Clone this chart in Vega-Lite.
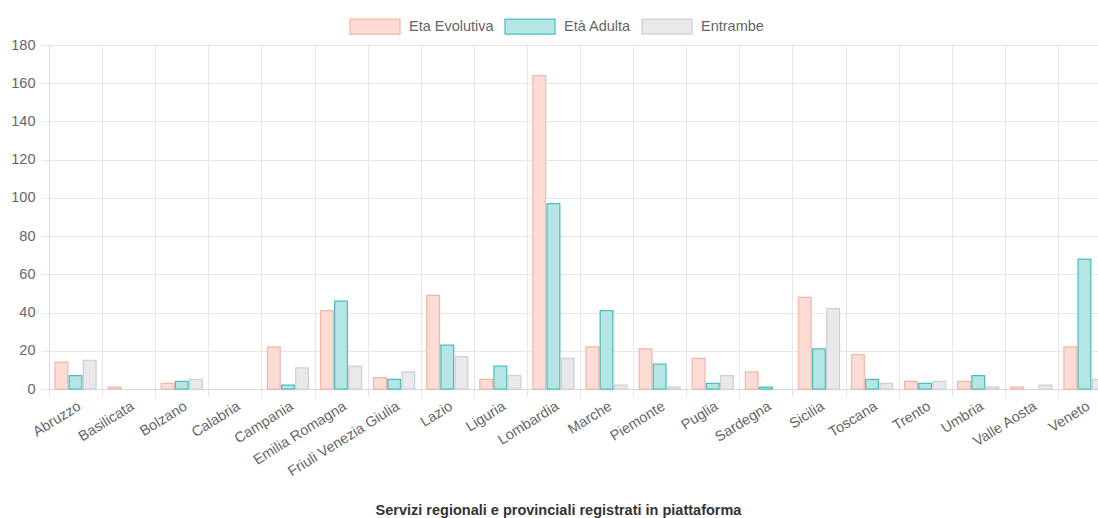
{
  "$schema": "https://vega.github.io/schema/vega-lite/v6.json",
  "width": 1049,
  "height": 344,
  "autosize": {"type": "none"},
  "padding": {"left": 49, "top": 45, "right": 0, "bottom": 129},
  "background": "white",
  "config": {
    "view": {"stroke": null},
    "font": "Liberation Sans",
    "axis": {"labelFont": "Liberation Sans", "labelColor": "#666666", "gridColor": "#e6e6e6", "domainColor": "#d9d9d9", "tickColor": "#e6e6e6"}
  },
  "data": {
    "values": [
      {"regione": "Abruzzo", "serie": "Eta Evolutiva", "valore": 14},
      {"regione": "Abruzzo", "serie": "Età Adulta", "valore": 7},
      {"regione": "Abruzzo", "serie": "Entrambe", "valore": 15},
      {"regione": "Basilicata", "serie": "Eta Evolutiva", "valore": 1},
      {"regione": "Basilicata", "serie": "Età Adulta", "valore": 0},
      {"regione": "Basilicata", "serie": "Entrambe", "valore": 0},
      {"regione": "Bolzano", "serie": "Eta Evolutiva", "valore": 3},
      {"regione": "Bolzano", "serie": "Età Adulta", "valore": 4},
      {"regione": "Bolzano", "serie": "Entrambe", "valore": 5},
      {"regione": "Calabria", "serie": "Eta Evolutiva", "valore": 0},
      {"regione": "Calabria", "serie": "Età Adulta", "valore": 0},
      {"regione": "Calabria", "serie": "Entrambe", "valore": 0},
      {"regione": "Campania", "serie": "Eta Evolutiva", "valore": 22},
      {"regione": "Campania", "serie": "Età Adulta", "valore": 2},
      {"regione": "Campania", "serie": "Entrambe", "valore": 11},
      {"regione": "Emilia Romagna", "serie": "Eta Evolutiva", "valore": 41},
      {"regione": "Emilia Romagna", "serie": "Età Adulta", "valore": 46},
      {"regione": "Emilia Romagna", "serie": "Entrambe", "valore": 12},
      {"regione": "Friuli Venezia Giulia", "serie": "Eta Evolutiva", "valore": 6},
      {"regione": "Friuli Venezia Giulia", "serie": "Età Adulta", "valore": 5},
      {"regione": "Friuli Venezia Giulia", "serie": "Entrambe", "valore": 9},
      {"regione": "Lazio", "serie": "Eta Evolutiva", "valore": 49},
      {"regione": "Lazio", "serie": "Età Adulta", "valore": 23},
      {"regione": "Lazio", "serie": "Entrambe", "valore": 17},
      {"regione": "Liguria", "serie": "Eta Evolutiva", "valore": 5},
      {"regione": "Liguria", "serie": "Età Adulta", "valore": 12},
      {"regione": "Liguria", "serie": "Entrambe", "valore": 7},
      {"regione": "Lombardia", "serie": "Eta Evolutiva", "valore": 164},
      {"regione": "Lombardia", "serie": "Età Adulta", "valore": 97},
      {"regione": "Lombardia", "serie": "Entrambe", "valore": 16},
      {"regione": "Marche", "serie": "Eta Evolutiva", "valore": 22},
      {"regione": "Marche", "serie": "Età Adulta", "valore": 41},
      {"regione": "Marche", "serie": "Entrambe", "valore": 2},
      {"regione": "Piemonte", "serie": "Eta Evolutiva", "valore": 21},
      {"regione": "Piemonte", "serie": "Età Adulta", "valore": 13},
      {"regione": "Piemonte", "serie": "Entrambe", "valore": 1},
      {"regione": "Puglia", "serie": "Eta Evolutiva", "valore": 16},
      {"regione": "Puglia", "serie": "Età Adulta", "valore": 3},
      {"regione": "Puglia", "serie": "Entrambe", "valore": 7},
      {"regione": "Sardegna", "serie": "Eta Evolutiva", "valore": 9},
      {"regione": "Sardegna", "serie": "Età Adulta", "valore": 1},
      {"regione": "Sardegna", "serie": "Entrambe", "valore": 0},
      {"regione": "Sicilia", "serie": "Eta Evolutiva", "valore": 48},
      {"regione": "Sicilia", "serie": "Età Adulta", "valore": 21},
      {"regione": "Sicilia", "serie": "Entrambe", "valore": 42},
      {"regione": "Toscana", "serie": "Eta Evolutiva", "valore": 18},
      {"regione": "Toscana", "serie": "Età Adulta", "valore": 5},
      {"regione": "Toscana", "serie": "Entrambe", "valore": 3},
      {"regione": "Trento", "serie": "Eta Evolutiva", "valore": 4},
      {"regione": "Trento", "serie": "Età Adulta", "valore": 3},
      {"regione": "Trento", "serie": "Entrambe", "valore": 4},
      {"regione": "Umbria", "serie": "Eta Evolutiva", "valore": 4},
      {"regione": "Umbria", "serie": "Età Adulta", "valore": 7},
      {"regione": "Umbria", "serie": "Entrambe", "valore": 1},
      {"regione": "Valle Aosta", "serie": "Eta Evolutiva", "valore": 1},
      {"regione": "Valle Aosta", "serie": "Età Adulta", "valore": 0},
      {"regione": "Valle Aosta", "serie": "Entrambe", "valore": 2},
      {"regione": "Veneto", "serie": "Eta Evolutiva", "valore": 22},
      {"regione": "Veneto", "serie": "Età Adulta", "valore": 68},
      {"regione": "Veneto", "serie": "Entrambe", "valore": 5}
    ]
  },
  "mark": {"type": "bar", "strokeWidth": 1.25, "strokeOpacity": 1, "fillOpacity": 1},
  "encoding": {
    "x": {
      "field": "regione",
      "type": "nominal",
      "sort": null,
      "scale": {"paddingInner": 0, "paddingOuter": 0, "range": [0, 1062]},
      "axis": {
        "title": "Servizi regionali e provinciali registrati in piattaforma",
        "titleFont": "Liberation Sans",
        "titleFontSize": 14.5,
        "titleFontWeight": "bold",
        "titleColor": "#333333",
        "titleX": 509,
        "titleY": 125,
        "titleBaseline": "alphabetic",
        "titleAnchor": "middle",
        "titleAlign": "center",
        "labelAngle": -32,
        "labelAlign": "right",
        "labelBaseline": "top",
        "labelFontSize": 14.5,
        "labelPadding": 2,
        "labelOverlap": false,
        "tickBand": "extent",
        "tickSize": 8,
        "grid": true,
        "domain": true
      }
    },
    "xOffset": {
      "field": "serie",
      "type": "nominal",
      "sort": ["Eta Evolutiva", "Età Adulta", "Entrambe"],
      "scale": {"paddingInner": 0.1, "paddingOuter": 0.425}
    },
    "y": {
      "field": "valore",
      "type": "quantitative",
      "scale": {"domain": [0, 180], "nice": false},
      "axis": {
        "title": null,
        "values": [0, 20, 40, 60, 80, 100, 120, 140, 160, 180],
        "labelFontSize": 14.5,
        "labelPadding": 6,
        "tickSize": 8,
        "grid": true
      }
    },
    "fill": {
      "field": "serie",
      "type": "nominal",
      "sort": ["Eta Evolutiva", "Età Adulta", "Entrambe"],
      "scale": {"domain": ["Eta Evolutiva", "Età Adulta", "Entrambe"], "range": ["#fddcd6", "#b5e6e5", "#e9e9eb"]},
      "legend": {
        "title": null,
        "orient": "none",
        "direction": "horizontal",
        "legendX": 300,
        "legendY": -44.5,
        "symbolType": "M-1,-0.3L1,-0.3L1,0.3L-1,0.3Z",
        "symbolSize": 2500,
        "symbolStrokeWidth": 1.25,
        "labelFontSize": 14.5,
        "labelColor": "#666666",
        "labelFont": "Liberation Sans",
        "labelOffset": 8,
        "columnPadding": 8
      }
    },
    "stroke": {
      "field": "serie",
      "type": "nominal",
      "sort": ["Eta Evolutiva", "Età Adulta", "Entrambe"],
      "scale": {"domain": ["Eta Evolutiva", "Età Adulta", "Entrambe"], "range": ["#f5b6a8", "#4bbfbd", "#cfd0d3"]},
      "legend": null
    },
    "opacity": {
      "condition": {"test": "datum.valore == 0", "value": 0},
      "value": 1
    }
  }
}
